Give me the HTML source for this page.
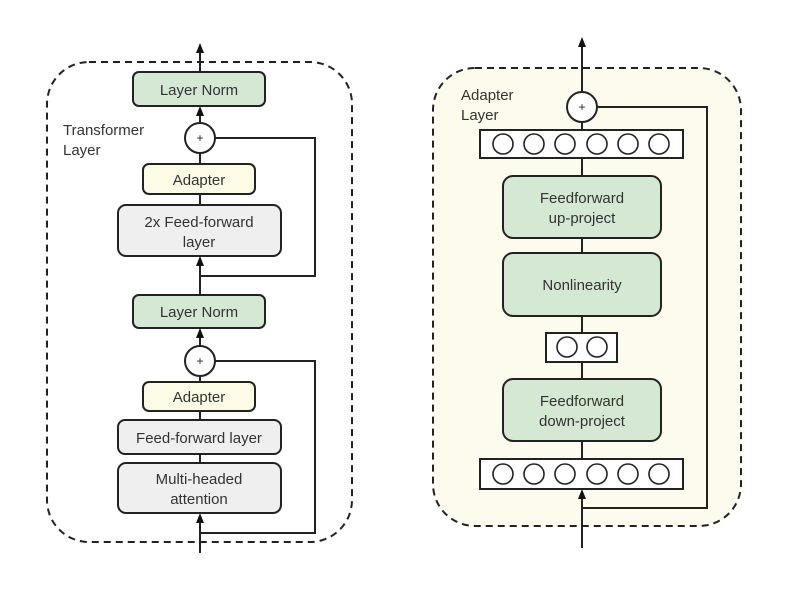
<!DOCTYPE html>
<html><head><style>body{margin:0;background:#fff}</style></head><body>
<svg width="791" height="587" xmlns="http://www.w3.org/2000/svg" font-family="Liberation Sans, sans-serif" font-size="15" fill="#333">
<g stroke="#222" stroke-width="2" fill="none">
<rect x="47" y="62" width="305" height="480" rx="42" stroke-dasharray="7,5"/>
<rect x="433" y="68" width="308" height="458" rx="42" stroke-dasharray="7,5" fill="#fcfbed"/>
<line x1="200" y1="72" x2="200" y2="50"/>
<line x1="200" y1="123" x2="200" y2="112"/>
<line x1="200" y1="153" x2="200" y2="164"/>
<line x1="200" y1="194" x2="200" y2="205"/>
<line x1="200" y1="295" x2="200" y2="262"/>
<polyline points="215,138 315,138 315,276 200,276"/>
<line x1="200" y1="346" x2="200" y2="334"/>
<line x1="200" y1="376" x2="200" y2="382"/>
<line x1="200" y1="411" x2="200" y2="420"/>
<line x1="200" y1="454" x2="200" y2="463"/>
<line x1="200" y1="553" x2="200" y2="519"/>
<polyline points="215,361 315,361 315,533 200,533"/>
<line x1="582" y1="92" x2="582" y2="44"/>
<line x1="582" y1="122" x2="582" y2="459"/>
<polyline points="597,107 707,107 707,508 582,508"/>
<line x1="582" y1="548" x2="582" y2="495"/>
</g>
<g fill="#111">
<polygon points="200,43 196,53 204,53"/>
<polygon points="200,106 196,116 204,116"/>
<polygon points="200,256 196,266 204,266"/>
<polygon points="200,328 196,338 204,338"/>
<polygon points="200,513 196,523 204,523"/>
<polygon points="582,37 578,47 586,47"/>
<polygon points="582,489 578,499 586,499"/>
</g>
<g stroke="#222" stroke-width="2">
<rect x="133" y="72" width="132" height="34" rx="6" fill="#d5e8d4"/>
<circle cx="200" cy="138" r="15" fill="#fff"/>
<rect x="143" y="164" width="112" height="30" rx="6" fill="#fdfbe6"/>
<rect x="118" y="205" width="163" height="51" rx="8" fill="#efefef"/>
<rect x="133" y="295" width="132" height="33" rx="6" fill="#d5e8d4"/>
<circle cx="200" cy="361" r="15" fill="#fff"/>
<rect x="143" y="382" width="112" height="29" rx="6" fill="#fdfbe6"/>
<rect x="118" y="420" width="163" height="34" rx="7" fill="#efefef"/>
<rect x="118" y="463" width="163" height="50" rx="8" fill="#efefef"/>
<circle cx="582" cy="107" r="15" fill="#fff"/>
<rect x="480" y="130" width="203" height="28" fill="#fff"/>
<rect x="503" y="176" width="158" height="62" rx="10" fill="#d5e8d4"/>
<rect x="503" y="253" width="158" height="63" rx="10" fill="#d5e8d4"/>
<rect x="546" y="333" width="71" height="29" fill="#fff"/>
<rect x="503" y="379" width="158" height="62" rx="10" fill="#d5e8d4"/>
<rect x="480" y="459" width="203" height="30" fill="#fff"/>
</g>
<g stroke="#222" stroke-width="1.6" fill="none">
<circle cx="503" cy="144" r="10"/><circle cx="534" cy="144" r="10"/><circle cx="565" cy="144" r="10"/><circle cx="597" cy="144" r="10"/><circle cx="628" cy="144" r="10"/><circle cx="659" cy="144" r="10"/>
<circle cx="567" cy="347" r="10"/><circle cx="597" cy="347" r="10"/>
<circle cx="503" cy="474" r="10"/><circle cx="534" cy="474" r="10"/><circle cx="565" cy="474" r="10"/><circle cx="597" cy="474" r="10"/><circle cx="628" cy="474" r="10"/><circle cx="659" cy="474" r="10"/>
</g>
<g text-anchor="middle" font-size="12" fill="#222"><text x="200" y="142">+</text><text x="200" y="365">+</text><text x="582" y="111">+</text></g>
<g text-anchor="middle">
<text x="199" y="95">Layer Norm</text>
<text x="199" y="185">Adapter</text>
<text x="199" y="227">2x Feed-forward</text><text x="199" y="247">layer</text>
<text x="199" y="317">Layer Norm</text>
<text x="199" y="402">Adapter</text>
<text x="199" y="443">Feed-forward layer</text>
<text x="199" y="484">Multi-headed</text><text x="199" y="504">attention</text>
<text x="582" y="203">Feedforward</text><text x="582" y="223">up-project</text>
<text x="582" y="290">Nonlinearity</text>
<text x="582" y="406">Feedforward</text><text x="582" y="426">down-project</text>
</g>
<text x="63" y="135">Transformer</text><text x="63" y="155">Layer</text>
<text x="461" y="100">Adapter</text><text x="461" y="120">Layer</text>
</svg>
</body></html>
